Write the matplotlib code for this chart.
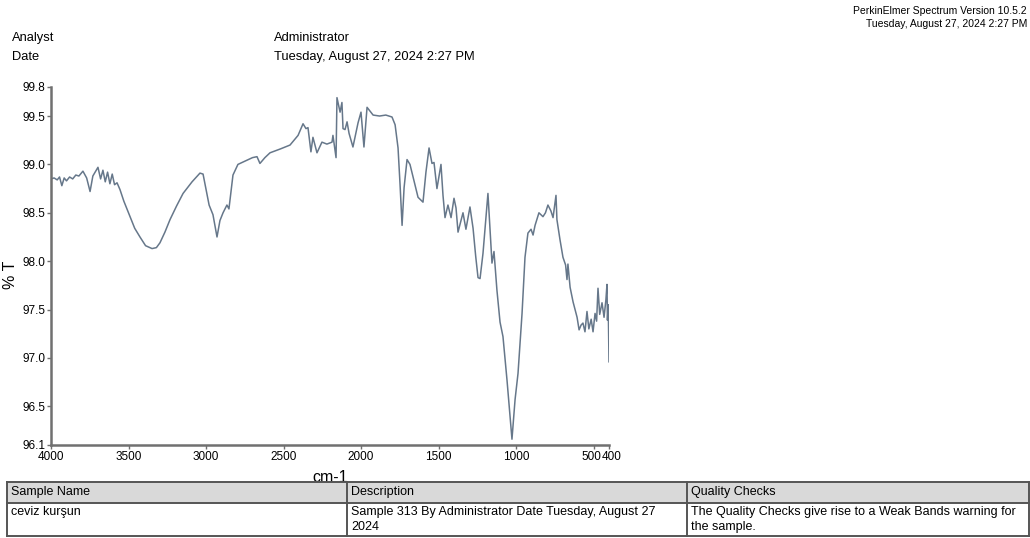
import numpy as np
import matplotlib
matplotlib.use("Agg")
import matplotlib.pyplot as plt
import matplotlib.transforms as mtransforms
from matplotlib.patches import Rectangle
from matplotlib.lines import Line2D

plt.rcParams['font.family'] = ['Liberation Sans', 'DejaVu Sans']

# Spectrum (wavenumber cm-1, %T)
wavenumber = [4000, 3980, 3960, 3945, 3930, 3915, 3900, 3880, 3860, 3840, 3820,
              3794, 3770, 3748, 3730, 3697, 3680, 3665, 3650, 3635, 3620, 3605,
              3590, 3574, 3555, 3530, 3490, 3460, 3426, 3390, 3348, 3320, 3297,
              3265, 3232, 3190, 3148, 3090, 3039, 3019, 2995, 2980, 2955, 2929,
              2910, 2890, 2865, 2852, 2826, 2794, 2740, 2700, 2671, 2652, 2620,
              2587, 2520, 2458, 2406, 2374, 2355, 2342, 2323, 2310, 2284, 2252,
              2220, 2187, 2181, 2161, 2155, 2135, 2123, 2116, 2103, 2090, 2077,
              2052, 2019, 2000, 1981, 1961, 1922, 1880, 1840, 1800, 1780, 1761,
              1748, 1735, 1722, 1703, 1684, 1652, 1632, 1600, 1581, 1561, 1542,
              1529, 1510, 1484, 1471, 1458, 1439, 1419, 1400, 1387, 1374, 1342,
              1323, 1297, 1277, 1260, 1245, 1232, 1213, 1181, 1155, 1142, 1123,
              1103, 1084, 1058, 1026, 1006, 987, 961, 942, 923, 903, 890, 877,
              852, 826, 810, 794, 775, 761, 742, 736, 716, 697, 680, 671, 665,
              651, 632, 606, 593, 580, 568, 555, 542, 530, 515, 503, 490, 480,
              471, 460, 445, 432, 420, 413, 410, 405, 400]
transmittance = [98.85, 98.86, 98.84, 98.87, 98.78, 98.86, 98.83, 98.87, 98.85,
                 98.89, 98.88, 98.93, 98.86, 98.72, 98.88, 98.97, 98.85, 98.94,
                 98.82, 98.92, 98.80, 98.90, 98.79, 98.81, 98.74, 98.62, 98.46,
                 98.34, 98.25, 98.16, 98.13, 98.14, 98.19, 98.30, 98.43, 98.57,
                 98.70, 98.82, 98.91, 98.90, 98.70, 98.58, 98.48, 98.25, 98.42,
                 98.50, 98.58, 98.54, 98.89, 99.00, 99.04, 99.07, 99.08, 99.01,
                 99.07, 99.12, 99.16, 99.20, 99.30, 99.42, 99.37, 99.38, 99.13,
                 99.28, 99.12, 99.23, 99.21, 99.23, 99.30, 99.07, 99.69, 99.54,
                 99.64, 99.37, 99.36, 99.44, 99.32, 99.18, 99.43, 99.54, 99.18,
                 99.59, 99.51, 99.50, 99.51, 99.49, 99.41, 99.17, 98.79, 98.37,
                 98.76, 99.05, 99.00, 98.79, 98.66, 98.61, 98.92, 99.17, 99.01,
                 99.02, 98.75, 99.00, 98.68, 98.45, 98.58, 98.45, 98.65, 98.55,
                 98.30, 98.50, 98.33, 98.56, 98.34, 98.05, 97.83, 97.82, 98.08,
                 98.70, 97.98, 98.10, 97.70, 97.37, 97.22, 96.77, 96.16, 96.57,
                 96.84, 97.46, 98.04, 98.29, 98.33, 98.27, 98.37, 98.50, 98.46,
                 98.50, 98.58, 98.52, 98.45, 98.68, 98.43, 98.22, 98.04, 97.96,
                 97.81, 97.97, 97.73, 97.58, 97.42, 97.29, 97.34, 97.36, 97.27,
                 97.48, 97.30, 97.40, 97.27, 97.46, 97.38, 97.72, 97.45, 97.57,
                 97.42, 97.60, 97.76, 97.39, 97.55, 96.96]

x_ticks = [4000, 3500, 3000, 2500, 2000, 1500, 1000, 500, 400]
y_ticks = [96.1, 96.5, 97.0, 97.5, 98.0, 98.5, 99.0, 99.5, 99.8]

table_header = ["Sample Name", "Description", "Quality Checks"]
table_row = ["ceviz kurşun",
             "Sample 313 By Administrator Date Tuesday, August 27\n2024",
             "The Quality Checks give rise to a Weak Bands warning for\nthe sample."]

W, H = 1030, 538
fig = plt.figure(figsize=(W / 100, H / 100), dpi=100)

def fx(px):
    return px / W

def fy(py):
    return 1 - py / H

ax = fig.add_axes([fx(51), fy(445), fx(609) - fx(51), fy(87) - fy(445)])
ax.plot(wavenumber, transmittance, color='#66778a', linewidth=1.1)
ax.set_xlim(4000, 400)
ax.set_ylim(96.1, 99.8)
ax.set_xticks(x_ticks)
ax.set_yticks(y_ticks)
# the last two x labels sit side by side ("500400"), drawn by hand below
ax.set_xticklabels([str(t) for t in x_ticks[:-2]] + ["", ""])
ax.set_yticklabels(["%.1f" % t for t in y_ticks])
for lab in ax.get_xticklabels() + ax.get_yticklabels():
    lab.set_fontsize(8.5)
lab_trans = mtransforms.blended_transform_factory(ax.transData, ax.transAxes) + \
    mtransforms.ScaledTranslation(0, -4 / 72, fig.dpi_scale_trans)
mid = (x_ticks[-2] + x_ticks[-1]) / 2
ax.text(mid, 0, str(x_ticks[-2]), transform=lab_trans, ha='right', va='top', fontsize=8.5)
ax.text(mid, 0, str(x_ticks[-1]), transform=lab_trans, ha='left', va='top', fontsize=8.5)

ax.spines['top'].set_visible(False)
ax.spines['right'].set_visible(False)
for s in ['left', 'bottom']:
    ax.spines[s].set_color('#707070')
    ax.spines[s].set_linewidth(1.8)
ax.tick_params(axis='both', length=3, width=1, color='#707070', pad=1)
ax.set_xlabel("cm-1", fontsize=11.5, labelpad=5)
ax.set_ylabel("% T", fontsize=11.5)
ax.yaxis.set_label_coords(-0.06, 0.475)

# header texts
fig.text(fx(12), fy(38), "Analyst", fontsize=9.3, va='center')
fig.text(fx(12), fy(57), "Date", fontsize=9.3, va='center')
fig.text(fx(274), fy(38), "Administrator", fontsize=9.3, va='center')
fig.text(fx(274), fy(57), "Tuesday, August 27, 2024 2:27 PM", fontsize=9.3, va='center')
fig.text(fx(1027), fy(11), "PerkinElmer Spectrum Version 10.5.2", fontsize=7.5,
         ha='right', va='center')
fig.text(fx(1027), fy(24), "Tuesday, August 27, 2024 2:27 PM", fontsize=7.5,
         ha='right', va='center')

# table at the bottom
tx0, tx1 = 7, 1029
ty0, ty1, ty2 = 482, 503, 536
col_x = [7, 347, 687]
fig.add_artist(Rectangle((fx(tx0), fy(ty1)), fx(tx1) - fx(tx0), fy(ty0) - fy(ty1),
                         facecolor='#d9d9d9', edgecolor='none', transform=fig.transFigure))
edge = '#555555'
for py in [ty0, ty1, ty2]:
    fig.add_artist(Line2D([fx(tx0), fx(tx1)], [fy(py), fy(py)], color=edge, lw=1.4,
                          transform=fig.transFigure))
for px in col_x + [tx1]:
    fig.add_artist(Line2D([fx(px), fx(px)], [fy(ty0), fy(ty2)], color=edge, lw=1.4,
                          transform=fig.transFigure))
for i, px in enumerate(col_x):
    fig.text(fx(px + 4), fy((ty0 + ty1) / 2), table_header[i], fontsize=9, va='center')
    fig.text(fx(px + 4), fy(ty1 + 3), table_row[i], fontsize=9, va='top',
             linespacing=1.3)

fig.savefig("out.png", dpi=100)
